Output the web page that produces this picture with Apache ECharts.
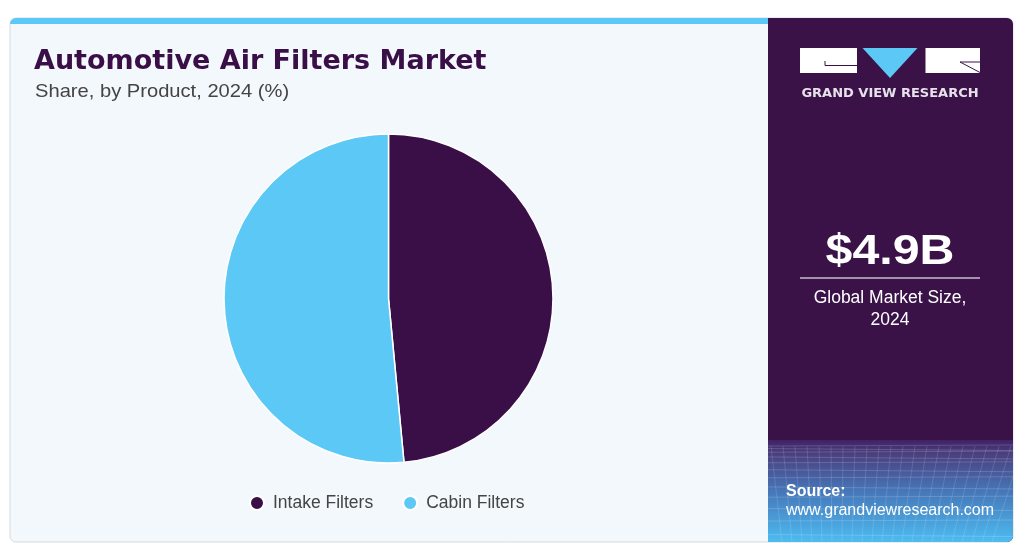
<!DOCTYPE html>
<html>
<head>
<meta charset="utf-8">
<script src="https://cdn.jsdelivr.net/npm/echarts@6/dist/echarts.min.js"></script>
<style>
html,body{margin:0;padding:0;background:#fff;}
#c{width:1032px;height:550px;}
</style>
</head>
<body>
<div id="c"></div>
<script>
const categories = ['Intake Filters', 'Cabin Filters'];
const shares = [48.5, 51.5];
const colors = ['#3a0f47', '#5bc8f5'];
const titleText = 'Automotive Air Filters Market';
const subtitleText = 'Share, by Product, 2024 (%)';
const marketSize = '$4.9B';
const marketLabel = ['Global Market Size,', '2024'];

const chart = echarts.init(document.getElementById('c'), null, {renderer: 'canvas'});

const gridLines = [];
// faint perspective grid pattern in the source box
for (let i = 0; i < 14; i++) {
  const y = 446 + i * i * 0.55 + i * 2;
  if (y > 540) break;
  gridLines.push({type: 'line', shape: {x1: 768, y1: y, x2: 1013, y2: y + (i % 2 ? 2 : -1)},
    style: {stroke: 'rgba(255,255,255,0.16)', lineWidth: 1}, silent: true});
}
for (let i = 0; i < 22; i++) {
  const x = 768 + i * 12;
  gridLines.push({type: 'line', shape: {x1: x + 3, y1: 446, x2: x - 8 - (i - 11) * 2, y2: 542},
    style: {stroke: 'rgba(255,255,255,0.13)', lineWidth: 1}, silent: true});
}

const SANS = '"Liberation Sans", Arial, sans-serif';
const HEAVY = '"DejaVu Sans", sans-serif';

const option = {
  animation: false,
  backgroundColor: '#ffffff',
  graphic: [
    // left panel
    {type: 'rect', shape: {x: 10, y: 18, width: 1003, height: 524, r: 6}, style: {fill: '#f3f8fc', stroke: '#d5d9de', lineWidth: 1}, z: -10},
    {type: 'rect', shape: {x: 10, y: 18, width: 760, height: 6, r: [6, 0, 0, 0]}, style: {fill: '#5bc8f5'}, z: -9},
    // right panel
    {type: 'rect', shape: {x: 768, y: 18, width: 245, height: 524, r: [0, 6, 6, 0]}, style: {fill: '#3a1248'}, z: -8},
    {type: 'rect', shape: {x: 768, y: 440, width: 245, height: 102, r: [0, 0, 6, 0]},
      style: {fill: {type: 'linear', x: 0, y: 0, x2: 0, y2: 1, colorStops: [
        {offset: 0, color: '#3f2266'}, {offset: 0.12, color: '#4a3d7c'}, {offset: 0.5, color: '#4676b8'}, {offset: 1, color: '#4dbcf1'}]}}, z: -7},
    {type: 'group', z: -6, children: gridLines},
    // logo
    {type: 'rect', shape: {x: 800, y: 48, width: 57, height: 25}, style: {fill: '#ffffff'}},
    {type: 'polyline', shape: {points: [[825, 61], [825, 65.5], [857, 65.5]]}, style: {stroke: '#3a1248', lineWidth: 1, fill: null}},
    {type: 'polygon', shape: {points: [[862.5, 48], [917.5, 48], [890, 78]]}, style: {fill: '#5bc8f5'}},
    {type: 'rect', shape: {x: 925.5, y: 48, width: 54.5, height: 25}, style: {fill: '#ffffff'}},
    {type: 'polyline', shape: {points: [[980, 62], [960, 62], [980, 72.5]]}, style: {stroke: '#3a1248', lineWidth: 1, fill: null}},
    {type: 'text', x: 890, y: 94, style: {text: 'GRAND VIEW RESEARCH', fill: '#e6e1ea', font: 'bold 13px ' + HEAVY, align: 'center', verticalAlign: 'middle'}},
    // market size
    {type: 'text', x: 890, y: 252, scaleX: 1.15, style: {text: marketSize, fill: '#ffffff', font: 'bold 42px ' + SANS, align: 'center', verticalAlign: 'middle'}},
    {type: 'line', shape: {x1: 800, y1: 278, x2: 980, y2: 278}, style: {stroke: '#c9bcd2', lineWidth: 1.5}},
    {type: 'text', x: 890, y: 298, style: {text: marketLabel[0], fill: '#ffffff', font: '17.5px ' + SANS, align: 'center', verticalAlign: 'middle'}},
    {type: 'text', x: 890, y: 320, style: {text: marketLabel[1], fill: '#ffffff', font: '17.5px ' + SANS, align: 'center', verticalAlign: 'middle'}},
    // source
    {type: 'text', x: 786, y: 492, style: {text: 'Source:', fill: '#ffffff', font: 'bold 16px ' + SANS, align: 'left', verticalAlign: 'middle'}},
    {type: 'text', x: 786, y: 511, style: {text: 'www.grandviewresearch.com', fill: '#ffffff', font: '16px ' + SANS, align: 'left', verticalAlign: 'middle'}},
    // titles
    {type: 'text', x: 34, y: 62, style: {text: titleText, fill: '#3a0f47', font: 'bold 27px ' + HEAVY, align: 'left', verticalAlign: 'middle'}},
    {type: 'text', x: 35, y: 92, scaleX: 1.06, style: {text: subtitleText, fill: '#444444', font: '19px ' + SANS, align: 'left', verticalAlign: 'middle'}}
  ],
  legend: {
    data: categories,
    left: 244, top: 489,
    icon: 'circle', itemWidth: 14, itemHeight: 14, itemGap: 29,
    textStyle: {fontSize: 17.5, color: '#444444', fontFamily: SANS, padding: [0, 0, 0, 4]}
  },
  series: [{
    type: 'pie',
    center: [388.5, 298.5],
    radius: [0, 164.5],
    startAngle: 90,
    clockwise: true,
    label: {show: false},
    labelLine: {show: false},
    itemStyle: {borderColor: '#ffffff', borderWidth: 1.5},
    data: categories.map((n, i) => ({name: n, value: shares[i], itemStyle: {color: colors[i]}}))
  }]
};
chart.setOption(option);
</script>
</body>
</html>
